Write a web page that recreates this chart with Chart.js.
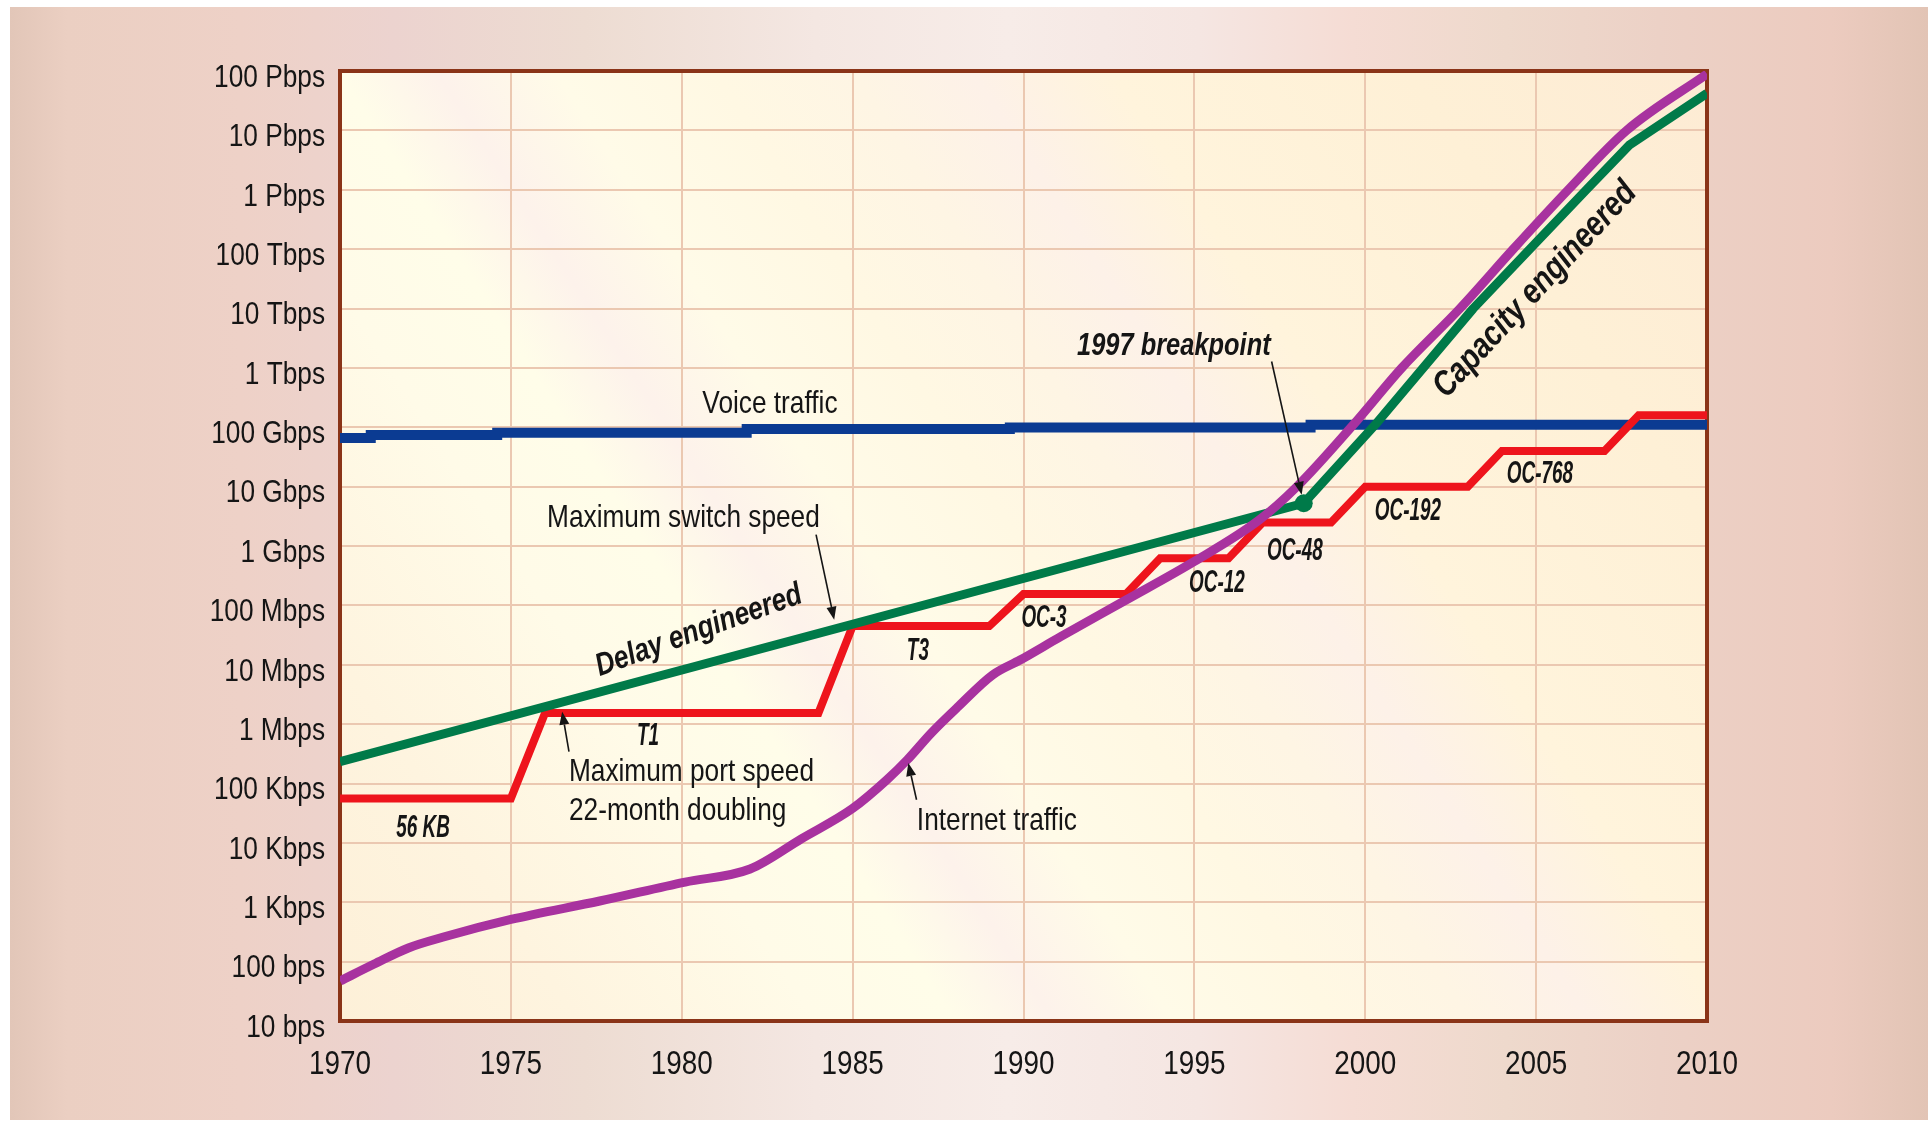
<!DOCTYPE html>
<html>
<head>
<meta charset="utf-8">
<title>Network traffic and switching speeds, 1970-2010</title>
<script src="https://cdn.jsdelivr.net/npm/chart.js@4.4.1/dist/chart.umd.min.js"></script>
<style>
  html, body { margin: 0; padding: 0; background: #ffffff; }
  #wrap { width: 1932px; height: 1122px; }
  canvas { display: block; }
</style>
</head>
<body>
<div id="wrap"><canvas id="chart" width="1932" height="1122"></canvas></div>
<script>
// ---- axes ----
const yearTicks = [1970, 1975, 1980, 1985, 1990, 1995, 2000, 2005, 2010];
const rateTicks = [1e1, 1e2, 1e3, 1e4, 1e5, 1e6, 1e7, 1e8, 1e9, 1e10, 1e11, 1e12, 1e13, 1e14, 1e15, 1e16, 1e17];
const rateLabels = ['10 bps', '100 bps', '1 Kbps', '10 Kbps', '100 Kbps', '1 Mbps', '10 Mbps',
  '100 Mbps', '1 Gbps', '10 Gbps', '100 Gbps', '1 Tbps', '10 Tbps', '100 Tbps', '1 Pbps',
  '10 Pbps', '100 Pbps'];

// ---- voice traffic (bps), small upward steps ----
const voiceYears = [1970, 1970.9, 1970.9, 1974.6, 1974.6, 1981.9, 1981.9, 1989.6, 1989.6, 1998.4, 1998.4, 2010];
const voiceBps   = [6.6e10, 6.6e10, 7.4e10, 7.4e10, 8.05e10, 8.05e10, 9.3e10, 9.3e10, 9.95e10, 9.95e10, 1.1e11, 1.1e11];

// ---- maximum port speed: one flat step per interface generation ----
const portNames = ['56 KB', 'T1', 'T3', 'OC-3', 'OC-12', 'OC-48', 'OC-192', 'OC-768', 'OC-3072'];
const portRates = [56e3, 1.544e6, 44.736e6, 155.52e6, 622.08e6, 2488.32e6, 9953.28e6, 39813.12e6, 159252.48e6];
const portFrom  = [1970, 1976, 1985, 1990, 1994, 1997, 2000, 2004, 2008];
const portTo    = [1975, 1984, 1989, 1993, 1996, 1999, 2003, 2007, 2010];

// ---- maximum switch speed (delay engineered, then capacity engineered) ----
const switchYears = [1970, 1998.2, 2000.29, 2003.16, 2006.47, 2007.74, 2010];
const switchBps   = [2.34e5, 5.25e9, 1.1e11, 1e13, 1e15, 5.75e15, 4.2e16];
const breakpointYear = 1998.2;

// ---- internet traffic (bps) ----
const internetYears = [1970, 1971, 1972, 1973, 1975, 1977.6, 1980.1, 1982, 1983.5, 1985, 1986,
  1986.6, 1987.3, 1988.1, 1989.1, 1989.9, 1991.1, 1993, 1995, 1996.9, 1998, 1999.65, 2001.07,
  2002.77, 2004.33, 2005.94, 2007.65, 2010];
const internetBps = [47, 91, 170, 257, 513, 1050, 2190, 3630, 1.17e4, 3.8e4, 1.15e5,
  2.51e5, 7.08e5, 2.0e6, 6.76e6, 1.2e7, 3.0e7, 1.23e8, 5.5e8, 2.75e9, 1.0e10, 1.1e11, 1e12,
  1e13, 1e14, 1e15, 1e16, 8.9e16];

// ---- build point lists ----
const zip = (xs, ys) => xs.map((x, i) => ({ x: x, y: ys[i] }));
const portPoints = [];
portRates.forEach((r, i) => {
  portPoints.push({ x: portFrom[i], y: r });
  portPoints.push({ x: portTo[i], y: r });
});

// ---- text layout ----
const SANS = '"Liberation Sans", Arial, sans-serif';
const NARROW = 0.82;          // horizontal squeeze giving a condensed face
const INK = '#151515';
const notes = [
  { text: 'Voice traffic',        year: 1982.58, rate: 1.75e11, weight: 'normal', size: 32, align: 'center' },
  { text: 'Maximum switch speed', year: 1976.06, rate: 2.1e9,   weight: 'normal', size: 32, align: 'left' },
  { text: 'Maximum port speed',   year: 1976.70, rate: 1.11e5,  weight: 'normal', size: 32, align: 'left' },
  { text: '22-month doubling',    year: 1976.70, rate: 2.46e4,  weight: 'normal', size: 32, align: 'left' },
  { text: 'Internet traffic',     year: 1986.88, rate: 1.67e4,  weight: 'normal', size: 32, align: 'left' },
  { text: '1997 breakpoint',      year: 1994.40, rate: 1.66e12, weight: 'italic bold', size: 31, align: 'center' },
  { text: 'Delay engineered',     year: 1980.50, rate: 3.73e7,  weight: 'italic bold', size: 32, align: 'center', middle: true, angle: -20 },
  { text: 'Capacity engineered',  year: 2004.97, rate: 2.06e13, weight: 'italic bold', size: 35, align: 'center', middle: true, angle: -47 }
];
// baseline anchors of the interface names under each step
const portLabelYears = [1972.43, 1979.01, 1986.91, 1990.60, 1995.66, 1997.94, 2001.25, 2005.11];
const portLabelRates = [1.27e4, 4.5e5, 1.21e7, 4.37e7, 1.69e8, 5.86e8, 2.76e9, 1.16e10];
// leader arrows: [tail year, tail rate, tip year, tip rate]
const arrows = [
  [1983.93, 1.55e9, 1984.46, 5.73e7],
  [1976.70, 3.43e5, 1976.50, 1.62e6],
  [1986.87, 5.33e4, 1986.63, 2.21e5],
  [1997.26, 1.28e12, 1998.14, 7.28e9]
];

// ---- paper, panel and frame ----
const paper = {
  id: 'paper',
  beforeDraw(chart) {
    const { ctx, width, height, chartArea: a } = chart;
    ctx.save();
    ctx.fillStyle = '#ffffff';
    ctx.fillRect(0, 0, width, height);
    const g = ctx.createLinearGradient(10, 0, 1928, 0);
    [[0, '#e2c6b8'], [0.03, '#ebcfc2'], [0.12, '#eed1c7'], [0.2, '#ecd3cf'], [0.3, '#eddcd2'],
     [0.42, '#f4e7e2'], [0.52, '#f7ece8'], [0.62, '#f5e6e2'], [0.7, '#f5dcd4'], [0.78, '#eed9cc'],
     [0.86, '#ecd1c6'], [0.95, '#eccbbf'], [1, '#e2c4b5']].forEach(s => g.addColorStop(s[0], s[1]));
    ctx.fillStyle = g;
    ctx.fillRect(10, 7, 1918, 1113);

    // panel: cream with soft diagonal bands
    const dx = 0.838, dy = -0.545;
    const L = (a.right - a.left) * dx + (a.bottom - a.top) * (-dy);
    const p = ctx.createLinearGradient(a.left, a.bottom, a.left + L * dx, a.bottom + L * dy);
    [[0, '#fdf0d8'], [0.12, '#fef4df'], [0.24, '#fffbe8'], [0.31, '#fffde9'], [0.36, '#fdf2eb'],
     [0.42, '#fffbe8'], [0.5, '#fff8e3'], [0.57, '#fef5e4'], [0.63, '#fdf1e8'], [0.7, '#fff4dc'],
     [0.85, '#fef0d6'], [1, '#fdebd4']].forEach(s => p.addColorStop(s[0], s[1]));
    ctx.fillStyle = p;
    ctx.fillRect(a.left, a.top, a.right - a.left, a.bottom - a.top);
    ctx.restore();
  },
  beforeDatasetsDraw(chart) {
    const { ctx, chartArea: a } = chart;
    ctx.save();
    ctx.strokeStyle = '#8a3418';
    ctx.lineWidth = 4;
    ctx.strokeRect(a.left, a.top, a.right - a.left, a.bottom - a.top);
    ctx.restore();
  }
};

// ---- condensed tick labels: each label is squeezed about its own anchor ----
const condensedTicks = {
  id: 'condensedTicks',
  afterLayout(chart) {
    Object.values(chart.scales).forEach(s => {
      if (s._condensed) return;
      s._condensed = true;
      const orig = s.drawLabels;
      s.drawLabels = function (area) {
        const ctx = this.ctx;
        const fill = CanvasRenderingContext2D.prototype.fillText;
        ctx.fillText = function (t, x, y) {
          this.save();
          this.translate(x, y);
          this.scale(NARROW, 1);
          fill.call(this, t, 0, 0);
          this.restore();
        };
        try { orig.call(this, area); } finally { delete ctx.fillText; }
      };
    });
  }
};

// ---- labels and leader arrows ----
const annotate = {
  id: 'annotate',
  afterDatasetsDraw(chart) {
    const { ctx } = chart;
    const xs = chart.scales.x, ys = chart.scales.y;
    const px = v => xs.getPixelForValue(v);
    const py = v => ys.getPixelForValue(v);
    ctx.save();
    ctx.fillStyle = INK;

    notes.forEach(n => {
      ctx.save();
      ctx.font = n.weight + ' ' + n.size + 'px ' + SANS;
      ctx.textAlign = n.align;
      ctx.textBaseline = n.middle ? 'middle' : 'alphabetic';
      ctx.translate(px(n.year), py(n.rate));
      if (n.angle) ctx.rotate(n.angle * Math.PI / 180);
      ctx.scale(NARROW, 1);
      ctx.fillText(n.text, 0, 0);
      ctx.restore();
    });

    portLabelYears.forEach((yr, i) => {
      ctx.save();
      ctx.font = 'italic bold 31px ' + SANS;
      ctx.textAlign = 'center';
      ctx.textBaseline = 'alphabetic';
      ctx.translate(px(yr), py(portLabelRates[i]));
      ctx.scale(0.61, 1);
      ctx.fillText(portNames[i], 0, 0);
      ctx.restore();
    });

    ctx.strokeStyle = INK;
    ctx.lineWidth = 1.6;
    arrows.forEach(ar => {
      const x0 = px(ar[0]), y0 = py(ar[1]), x1 = px(ar[2]), y1 = py(ar[3]);
      const ang = Math.atan2(y1 - y0, x1 - x0);
      const head = 13, half = 5;
      const bx = x1 - head * Math.cos(ang), by = y1 - head * Math.sin(ang);
      ctx.beginPath();
      ctx.moveTo(x0, y0);
      ctx.lineTo(bx, by);
      ctx.stroke();
      ctx.beginPath();
      ctx.moveTo(x1, y1);
      ctx.lineTo(bx + half * Math.sin(ang), by - half * Math.cos(ang));
      ctx.lineTo(bx - half * Math.sin(ang), by + half * Math.cos(ang));
      ctx.closePath();
      ctx.fill();
    });
    ctx.restore();
  }
};

const lineBase = { fill: false, borderCapStyle: 'butt', borderJoinStyle: 'miter', pointRadius: 0, tension: 0 };

new Chart(document.getElementById('chart'), {
  type: 'line',
  data: {
    datasets: [
      Object.assign({}, lineBase, {
        label: 'Internet traffic', data: zip(internetYears, internetBps),
        borderColor: '#a8329f', borderWidth: 9, borderJoinStyle: 'round', cubicInterpolationMode: 'monotone'
      }),
      Object.assign({}, lineBase, {
        label: 'Maximum switch speed', data: zip(switchYears, switchBps),
        borderColor: '#007a49', borderWidth: 9, borderJoinStyle: 'round',
        pointBackgroundColor: '#007a49', pointBorderWidth: 0,
        pointRadius: c => (c.raw && c.raw.x === breakpointYear ? 9 : 0)
      }),
      Object.assign({}, lineBase, {
        label: 'Maximum port speed', data: portPoints,
        borderColor: '#ee141c', borderWidth: 8
      }),
      Object.assign({}, lineBase, {
        label: 'Voice traffic', data: zip(voiceYears, voiceBps),
        borderColor: '#0b3b92', borderWidth: 10
      })
    ]
  },
  options: {
    responsive: false,
    animation: false,
    events: [],
    layout: { padding: { top: 71, right: 225, bottom: 0, left: 0 } },
    plugins: { legend: { display: false }, tooltip: { enabled: false } },
    scales: {
      x: {
        type: 'linear',
        min: yearTicks[0],
        max: yearTicks[yearTicks.length - 1],
        afterBuildTicks: s => { s.ticks = yearTicks.map(v => ({ value: v })); },
        afterFit: s => { s.height = 101; },
        grid: { color: '#ebc8b1', lineWidth: 2, drawTicks: false },
        border: { display: false },
        ticks: {
          padding: 23,
          color: INK,
          font: { family: SANS, size: 34 },
          callback: v => String(v)
        }
      },
      y: {
        type: 'logarithmic',
        min: rateTicks[0],
        max: rateTicks[rateTicks.length - 1],
        afterBuildTicks: s => { s.ticks = rateTicks.map(v => ({ value: v, major: false })); },
        afterFit: s => { s.width = 340; },
        grid: { color: '#ebc8b1', lineWidth: 2, drawTicks: false },
        border: { display: false },
        ticks: {
          padding: 15,
          labelOffset: 7,
          color: INK,
          font: { family: SANS, size: 32 },
          autoSkip: false,
          callback: v => rateLabels[rateTicks.indexOf(v)]
        }
      }
    }
  },
  plugins: [paper, condensedTicks, annotate]
});
</script>
</body>
</html>
